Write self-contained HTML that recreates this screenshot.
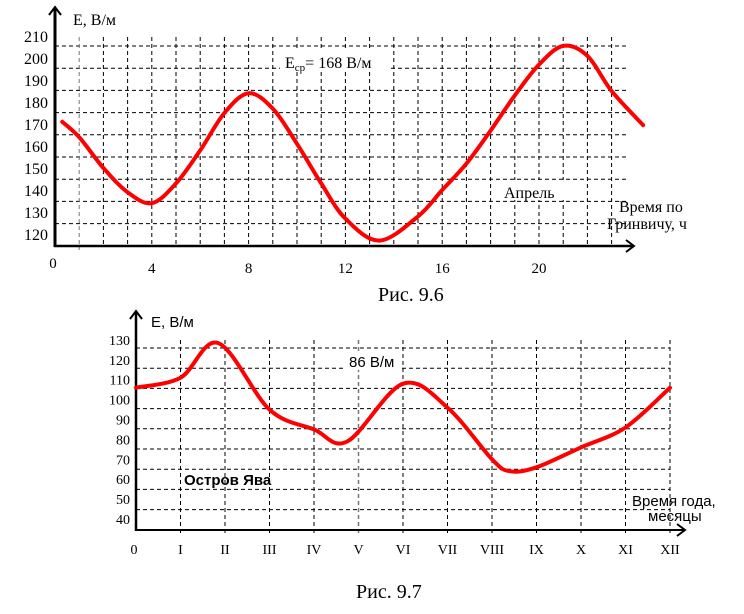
<!DOCTYPE html>
<html><head><meta charset="utf-8"><style>
body{margin:0;background:#fff;}
svg{display:block;}
.t{font-family:"Liberation Serif",serif;fill:#000;}
.a{font-family:"Liberation Sans",sans-serif;fill:#000;}
</style></head><body>
<svg id="c" width="744" height="614" viewBox="0 0 744 614">
<g id="g1"></g>
<g id="g2"></g>
</svg>
<script>
// Chart 9.6 data
const hours1 = [0.3,1,2,3,4,5,6,7,8,9,10,11,12,13.4,15,16,17,18,19,20,21,22,23,24.3];
const values1 = [171,164,150,139,134,143,158,175,184,177,161,143,127,117,128,140,152,167,183,197,205.5,201,185,169.5];
const yTicks1 = [210,200,190,180,170,160,150,140,130,120];
const xTicks1 = [0,4,8,12,16,20];
// Chart 9.7 data
const months2 = [0,1,1.85,3,4,4.75,6,7,8,8.4,9,10,11,12];
const values2 = [106,111,128.4,95,85,79,108,96,70,64,66,76,86,106];
const yTicks2 = [130,120,110,100,90,80,70,60,50,40];
const xTicks2 = ['0','I','II','III','IV','V','VI','VII','VIII','IX','X','XI','XII'];

const NS='http://www.w3.org/2000/svg';
function mk(p,tag,attrs){const e=document.createElementNS(NS,tag);for(const k in attrs)e.setAttribute(k,attrs[k]);p.appendChild(e);return e;}
function smooth(pts){let d='M'+pts[0][0]+','+pts[0][1];for(let i=0;i<pts.length-1;i++){const p0=pts[Math.max(0,i-1)],p1=pts[i],p2=pts[i+1],p3=pts[Math.min(pts.length-1,i+2)];const c1=[p1[0]+(p2[0]-p0[0])/6,p1[1]+(p2[1]-p0[1])/6];const c2=[p2[0]-(p3[0]-p1[0])/6,p2[1]-(p3[1]-p1[1])/6];d+=' C'+c1[0].toFixed(1)+','+c1[1].toFixed(1)+' '+c2[0].toFixed(1)+','+c2[1].toFixed(1)+' '+p2[0].toFixed(1)+','+p2[1].toFixed(1);}return d;}
function txt(p,x,y,s,cls,size,extra){const e=mk(p,'text',Object.assign({x:x,y:y,class:cls,style:'font-size:'+size+'px'},extra||{}));e.textContent=s;return e;}

// ---- Chart 1
const g1=document.getElementById('g1');
const x1=h=>55+h*24.2;
const y1=v=>234-(v-120)*2.2;
for(let i=0;i<9;i++){const yy=46+i*22.2;
 const l=mk(g1,'line',{x1:55,x2:627,y1:yy,y2:yy,stroke:'#000','stroke-width':1,'stroke-dasharray':'4,3'});
 
 }
for(let h=1;h<=23;h++){const l=mk(g1,'line',{x1:x1(h),x2:x1(h),y1:37,y2:h==1?250:246,stroke:h==1?'#777':'#000','stroke-width':1,'stroke-dasharray':'4,3'});
 
 }
mk(g1,'rect',{x:280,y:50,width:110,height:22,fill:'#fff'});
mk(g1,'rect',{x:500,y:180,width:68,height:20,fill:'#fff'});
mk(g1,'line',{x1:55,y1:247,x2:55,y2:8,stroke:'#000','stroke-width':3});
mk(g1,'path',{d:'M49,15 L55,7 L61,15',fill:'none',stroke:'#000','stroke-width':2});
mk(g1,'line',{x1:54,y1:246,x2:633,y2:246,stroke:'#000','stroke-width':2.5});
mk(g1,'path',{d:'M626,240 L634,246 L626,252',fill:'none',stroke:'#000','stroke-width':2});
yTicks1.forEach(v=>{const e=txt(g1,48,y1(v)+6,String(v),'t',16,{'text-anchor':'end'});
 
 });
xTicks1.forEach(h=>{const e=txt(g1,x1(h)-(h==0?2:0),h==0?268:273,String(h),'t',15,{'text-anchor':'middle'});
 
 });
const p1=mk(g1,'path',{d:smooth(hours1.map((h,i)=>[x1(h),y1(values1[i])])),fill:'none',stroke:'#f00','stroke-width':4,'stroke-linecap':'round'});


let e;
e=txt(g1,73,25,'E, В/м','t',16);
e=txt(g1,285,68,'','t',16);e.innerHTML='E<tspan style="font-size:11px" dy="3">ср</tspan><tspan dy="-3">= 168 В/м</tspan>';
e=txt(g1,504,198,'Апрель','t',16);
e=txt(g1,619,212,'Время по','t',16);
e=txt(g1,607,229,'Гринвичу, ч','t',16);
e=txt(g1,378,301,'Рис. 9.6','t',20);

// ---- Chart 2
const g2=document.getElementById('g2');
const x2=m=>136+m*44.5;
const y2=v=>519-(v-40)*1.99;
for(let i=0;i<9;i++){const yy=348+i*20.2;
 const l=mk(g2,'line',{x1:136,x2:670,y1:yy,y2:yy,stroke:'#000','stroke-width':1,'stroke-dasharray':'4,3'});
 
 }
for(let m=1;m<=12;m++){const l=mk(g2,'line',{x1:x2(m),x2:x2(m),y1:340,y2:534,stroke:m==5?'#777':'#000','stroke-width':m==5?1.5:1,'stroke-dasharray':'4,3'});
 
 }
mk(g2,'rect',{x:346,y:352,width:56,height:18,fill:'#fff'});
mk(g2,'line',{x1:136,y1:531,x2:136,y2:312,stroke:'#000','stroke-width':2.5});
mk(g2,'path',{d:'M130,319 L136,311 L142,319',fill:'none',stroke:'#000','stroke-width':2});
mk(g2,'line',{x1:135,y1:530,x2:684,y2:530,stroke:'#000','stroke-width':2});
mk(g2,'path',{d:'M677,524 L685,530 L677,536',fill:'none',stroke:'#000','stroke-width':2});
yTicks2.forEach(v=>{const e=txt(g2,130,y2(v)+5,String(v),'t',14,{'text-anchor':'end'});
 
 });
xTicks2.forEach((s,i)=>{const e=txt(g2,x2(i)-(i==0?2:0),554,s,'t',14,{'text-anchor':'middle'});
 
 });
const p2=mk(g2,'path',{d:smooth(months2.map((m,i)=>[x2(m),y2(values2[i])])),fill:'none',stroke:'#f00','stroke-width':4,'stroke-linecap':'round'});


e=txt(g2,151,327,'E, В/м','a',15);
e=txt(g2,349,367,'86 В/м','a',15);
e=txt(g2,184,485,'Остров Ява','a',15,{'font-weight':'bold'});
e=txt(g2,632,506,'Время года,','a',15);
e=txt(g2,648,521,'месяцы','a',15);
e=txt(g2,356,598,'Рис. 9.7','t',20);
</script>
</body></html>
